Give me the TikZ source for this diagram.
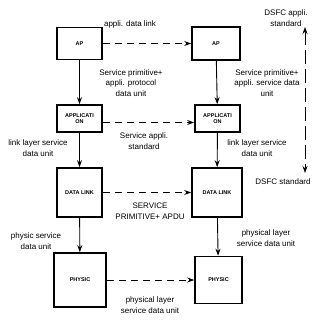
\documentclass[tikz,border=0pt]{standalone}
\usepackage{fontspec}
\setmainfont{Liberation Sans}
\usetikzlibrary{arrows.meta}

\begin{document}
\begin{tikzpicture}[x=1pt,y=-1pt,->,>={Stealth[length=7pt,width=5pt]},line width=0.9pt,
  layer node/.style={draw,line width=1.6pt,inner sep=0pt,align=center,font=\bfseries\fontsize{5.5}{6.5}\selectfont},
  note/.style={inner sep=0pt,align=center,font=\fontsize{8}{10.5}\selectfont}]
  \useasboundingbox (0,0) rectangle (328,320);

  \node[layer node,minimum width=45pt,minimum height=32pt] (ap1) at (79.5,43.5) {AP};
  \node[layer node,minimum width=48pt,minimum height=33pt] (ap2) at (216,43.5) {AP};
  \node[layer node,minimum width=45pt,minimum height=27pt] (app1) at (79.5,118.5) {APPLICATI\\ON};
  \node[layer node,minimum width=45pt,minimum height=27pt] (app2) at (217.5,118.5) {APPLICATI\\ON};
  \node[layer node,minimum width=45pt,minimum height=49pt] (dl1) at (79.5,192.5) {DATA LINK};
  \node[layer node,minimum width=50pt,minimum height=49pt] (dl2) at (217,192.5) {DATA LINK};
  \node[layer node,minimum width=52pt,minimum height=54pt] (ph1) at (80,280) {PHYSIC};
  \node[layer node,minimum width=47pt,minimum height=47pt] (ph2) at (218.5,280) {PHYSIC};
  \coordinate (dsfc top) at (305,27);
  \coordinate (dsfc bottom) at (305,173);

  \node[note] (n1) at (130,24) {appli. data link};
  \node[note] (n2) at (131,83) {Service primitive+\\appli. protocol\\data unit};
  \node[note] (n3) at (267,83) {Service primitive+\\appli. service data\\unit};
  \node[note] (n4) at (286,18) {DSFC appli.\\standard};
  \node[note] (n5) at (144,141) {Service appli.\\standard};
  \node[note] (n6) at (38,148) {link layer service\\data unit};
  \node[note] (n7) at (257,148) {link layer service\\data unit};
  \node[note] (n8) at (283,182) {DSFC standard};
  \node[note] (n9) at (150,211) {SERVICE\\PRIMITIVE+ APDU};
  \node[note] (n10) at (36,241) {physic service\\data unit};
  \node[note] (n11) at (266,238) {physical layer\\service data unit};
  \node[note] (n12) at (150,305) {physical layer\\service data unit};

  \path
    (ap1) edge (app1)
    (app1) edge (dl1)
    (dl1) edge (ph1)
    (ap2) edge (app2)
    (app2) edge (dl2)
    (dl2) edge (ph2)
    ;

  \path[dash pattern=on 7pt off 5pt]
    (ap1) edge (ap2)
    ([yshift=-4pt]app1.east) edge ([yshift=-4pt]app2.west)
    (dl1) edge (dl2)
    (ph1) edge (ph2)
    ;

  \draw[<->,dash pattern=on 14pt off 5pt] (dsfc top) -- (dsfc bottom);

\end{tikzpicture}
\end{document}
